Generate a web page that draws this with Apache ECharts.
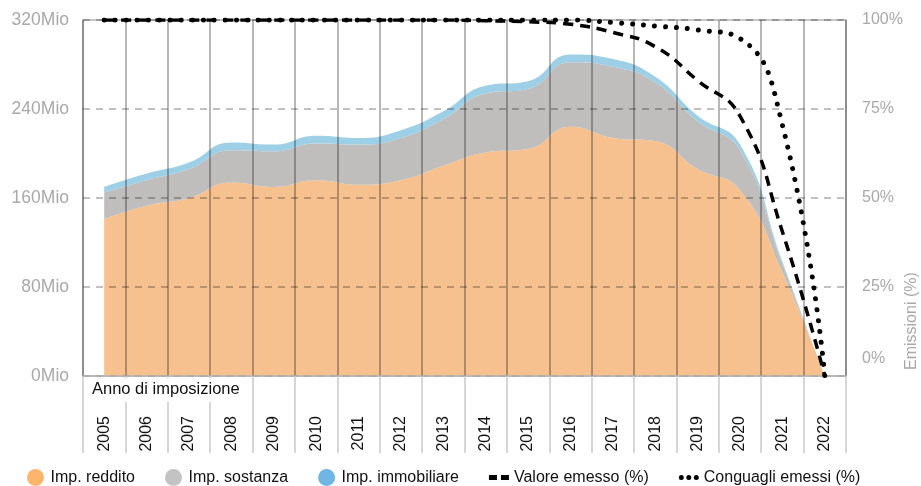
<!DOCTYPE html>
<html>
<head>
<meta charset="utf-8">
<script src="https://cdn.jsdelivr.net/npm/echarts@6/dist/echarts.min.js"></script>
<style>
  html, body { margin: 0; padding: 0; background: #fff; }
  #chart { width: 921px; height: 486px; }
</style>
</head>
<body>
<div id="chart"></div>
<script>
// Anni di imposizione
const years = ['2005','2006','2007','2008','2009','2010','2011','2012','2013',
               '2014','2015','2016','2017','2018','2019','2020','2021','2022'];

// Importi in milioni (aree impilate)
const impReddito     = [141, 153, 160, 174, 170, 176, 172, 176, 189, 201, 204, 224, 214, 211, 186, 167, 93, 0];
const impSostanza    = [24, 23, 26, 29, 32, 33, 36, 38, 42, 53, 54, 58, 64, 53, 43, 36, 8, 0];
const impImmobiliare = [5, 6, 6, 7, 6, 7, 6, 7, 7, 7, 7, 7, 7, 5, 5, 5, 2, 0];

// Quote di emissione (%)
const valoreEmesso     = [100, 100, 100, 100, 100, 100, 100, 100, 100, 99.8, 99.5, 98.8, 96.5, 92.5, 83, 73, 40.5, 0];
const conguagliEmessi  = [100, 100, 100, 100, 100, 100, 100, 100, 100, 100, 100, 100, 99.3, 98.3, 97.2, 94.8, 70.5, 0];

// Tacche degli assi
const leftTicks  = { min: 0, max: 320, interval: 80 };
const rightTicks = { min: 0, max: 100, interval: 25 };

const FONT = '"Liberation Sans", Arial, sans-serif';
const GREY_TXT = '#a9a9a9';

// Icone di legenda per le linee: due trattini / tre punti
const ICON_DASH = 'path://M0 0H8V5H0Z M12 0H20V5H12Z';
const ICON_DOTS = 'path://M2.5 0A2.5 2.5 0 1 1 2.5 5A2.5 2.5 0 1 1 2.5 0Z' +
                  'M10 0A2.5 2.5 0 1 1 10 5A2.5 2.5 0 1 1 10 0Z' +
                  'M17.5 0A2.5 2.5 0 1 1 17.5 5A2.5 2.5 0 1 1 17.5 0Z';

const chart = echarts.init(document.getElementById('chart'), null, { renderer: 'canvas' });

function areaSeries(name, data, legendColor, fillColor) {
  return {
    name, type: 'line', stack: 'importi', data,
    smooth: 0.5, symbol: 'none', z: 2,
    itemStyle: { color: legendColor },
    lineStyle: { width: 0, color: fillColor },
    areaStyle: { color: fillColor, opacity: 1 },
    emphasis: { disabled: true }
  };
}

function pctSeries(name, data, dash, width, cap) {
  return {
    name, type: 'line', yAxisIndex: 1, data,
    smooth: 0.5, symbol: 'none', z: 10,
    itemStyle: { color: '#000' },
    lineStyle: { color: '#000', width, type: dash, cap },
    emphasis: { disabled: true }
  };
}

chart.setOption({
  animation: false,
  textStyle: { fontFamily: FONT },
  grid: {
    left: 83, right: 75, top: 20, bottom: 110,
    show: true, borderColor: '#b5b5b5', borderWidth: 1.5, backgroundColor: 'transparent'
  },
  legend: {
    top: 464, left: 22, itemGap: 30, itemWidth: 20, itemHeight: 17,
    textStyle: { fontSize: 16, color: '#111', fontFamily: FONT },
    data: [
      { name: 'Imp. reddito', icon: 'circle' },
      { name: 'Imp. sostanza', icon: 'circle' },
      { name: 'Imp. immobiliare', icon: 'circle' },
      { name: 'Valore emesso (%)', icon: ICON_DASH },
      { name: 'Conguagli emessi (%)', icon: ICON_DOTS }
    ]
  },
  xAxis: {
    type: 'category', data: years, boundaryGap: true, z: 5,
    axisLine: { show: true, lineStyle: { color: '#b5b5b5', width: 1.5 } },
    axisTick: { show: true, interval: 0, length: 77, lineStyle: { color: '#c9c9c9', width: 1.5 } },
    axisLabel: { interval: 0, rotate: 90, margin: 40, fontSize: 16, color: '#111', fontFamily: FONT },
    splitLine: { show: true, interval: 0, lineStyle: { color: 'rgba(0,0,0,0.38)', width: 1.5 } }
  },
  yAxis: [
    {
      type: 'value', min: leftTicks.min, max: leftTicks.max, interval: leftTicks.interval, z: 5,
      axisLine: { show: false }, axisTick: { show: false },
      axisLabel: { formatter: '{value}Mio', fontSize: 17.5, color: GREY_TXT, margin: 14, fontFamily: FONT },
      splitLine: { show: true, lineStyle: { color: 'rgba(0,0,0,0.33)', width: 1.5, type: [7, 6] } }
    },
    {
      type: 'value', min: rightTicks.min, max: rightTicks.max, interval: rightTicks.interval, z: 5,
      position: 'right',
      axisLine: { show: false }, axisTick: { show: false },
      axisLabel: {
        margin: 16, fontSize: 16, color: GREY_TXT, fontFamily: FONT,
        formatter: v => (v === 0 ? '{z|0%}' : v + '%'),
        rich: { z: { padding: [0, 0, 34, 0], fontSize: 16, color: GREY_TXT, fontFamily: FONT } }
      },
      splitLine: { show: false }
    }
  ],
  graphic: [
    {
      // titolo dell'asse orizzontale, su fondo bianco sopra le tacche
      type: 'text', x: 84, y: 378, z: 20,
      style: {
        text: 'Anno di imposizione', fill: '#111', font: '16.5px ' + FONT,
        align: 'left', verticalAlign: 'top', backgroundColor: '#fff', padding: [3, 8, 4, 8]
      }
    },
    {
      type: 'text', x: 912, y: 370, rotation: Math.PI / 2, z: 20,
      style: { text: 'Emissioni (%)', fill: GREY_TXT, font: '16px ' + FONT, align: 'left', verticalAlign: 'middle' }
    }
  ],
  series: [
    areaSeries('Imp. reddito', impReddito, '#fdb56c', '#f6c18e'),
    areaSeries('Imp. sostanza', impSostanza, '#c3c3c3', '#c0bebd'),
    areaSeries('Imp. immobiliare', impImmobiliare, '#6fb6e2', '#9dcfe7'),
    pctSeries('Valore emesso (%)', valoreEmesso, [10, 7], 3.5, 'butt'),
    pctSeries('Conguagli emessi (%)', conguagliEmessi, [0.01, 11], 5, 'round')
  ]
});
</script>
</body>
</html>
